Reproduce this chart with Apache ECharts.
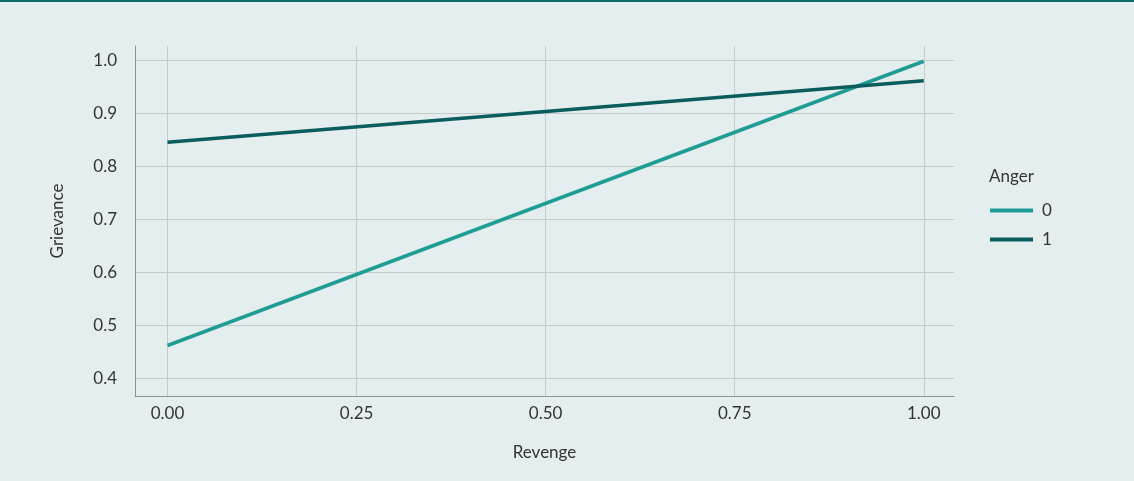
<!DOCTYPE html>
<html>
<head>
<meta charset="utf-8">
<script src="https://cdn.jsdelivr.net/npm/echarts@6/dist/echarts.min.js"></script>
<style>
html,body{margin:0;padding:0;background:#e5eeef;}
#chart{width:1134px;height:481px;}
</style>
</head>
<body>
<div id="chart"></div>
<script>
const revenge = [0, 1];
const anger0 = [0.462, 0.999];
const anger1 = [0.846, 0.962];
const seriesNames = ['0', '1'];
const xTicks = [0, 0.25, 0.5, 0.75, 1.0];
const yTicks = [0.4, 0.5, 0.6, 0.7, 0.8, 0.9, 1.0];
const colors = ['#1f9d95', '#0b5c5d'];
const font = 'Lato, "Open Sans", sans-serif';
const fs = 17;

const chart = echarts.init(document.getElementById('chart'));
chart.setOption({
  backgroundColor: '#e5eeef',
  animation: false,
  graphic: [{type:'rect', left:0, top:0, shape:{width:1134, height:2}, style:{fill:'#0d6a66'}}],
  title: {text:'Anger', left:984, top:163, textStyle:{fontFamily:font, fontSize:fs, fontWeight:'normal', color:'#333'}},
  legend: {
    data: seriesNames, orient:'vertical', left:985, top:197, itemGap:12,
    itemWidth:43, itemHeight:4, icon:'rect',
    textStyle:{fontFamily:font, fontSize:fs, color:'#333', padding:[0,0,0,4]}
  },
  grid: {left:135, right:180, top:46, bottom:85, containLabel:false},
  xAxis: {
    type:'value', min:-0.043, max:1.04,
    name:'Revenge', nameLocation:'middle', nameGap:48,
    nameTextStyle:{fontFamily:font, fontSize:fs, color:'#333'},
    axisLine:{show:true, onZero:false, lineStyle:{color:'#8d9292', width:1}},
    splitLine:{show:true, lineStyle:{color:'#c6cacb', width:1}},
    axisLabel:{fontFamily:font, fontSize:fs, color:'#333', margin:9,
      customValues: xTicks, formatter: v => v.toFixed(2)},
    axisTick:{show:false, customValues:xTicks}
  },
  yAxis: {
    type:'value', min:0.3666, max:1.0278,
    name:'Grievance', nameLocation:'middle', nameGap:69, nameRotate:90,
    nameTextStyle:{fontFamily:font, fontSize:fs, color:'#333'},
    axisLine:{show:true, onZero:false, lineStyle:{color:'#8d9292', width:1}},
    axisTick:{show:false, customValues:yTicks},
    splitLine:{show:true, lineStyle:{color:'#c6cacb', width:1}},
    axisLabel:{fontFamily:font, fontSize:fs, color:'#333', margin:18,
      customValues: yTicks, formatter: v => v.toFixed(1)}
  },
  series: [
    {name:seriesNames[0], type:'line', data: revenge.map((x,i)=>[x, anger0[i]]), showSymbol:false, symbol:'none',
     lineStyle:{color:colors[0], width:3.5}, itemStyle:{color:colors[0]}},
    {name:seriesNames[1], type:'line', data: revenge.map((x,i)=>[x, anger1[i]]), showSymbol:false, symbol:'none',
     lineStyle:{color:colors[1], width:3.5}, itemStyle:{color:colors[1]}}
  ]
});
</script>
</body>
</html>
